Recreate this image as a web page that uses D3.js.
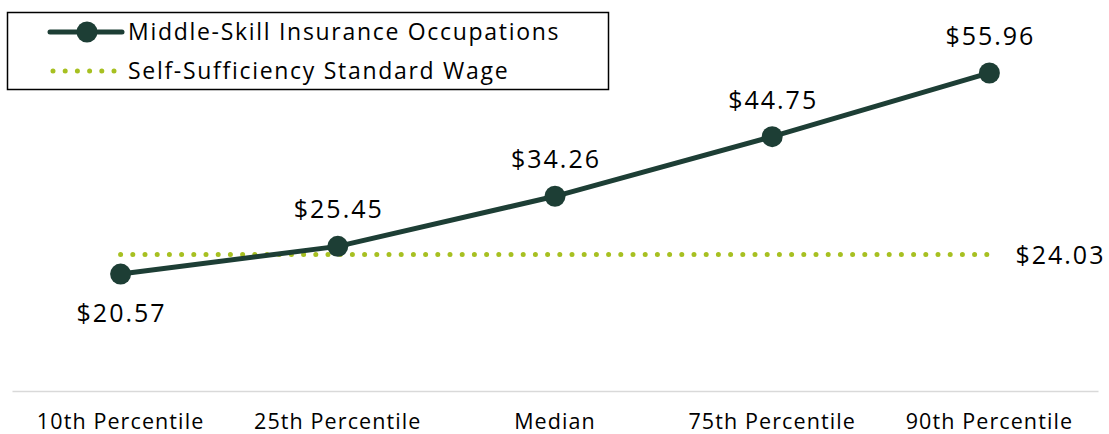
<!DOCTYPE html>
<html lang="en">
<head>
<meta charset="UTF-8">
<title>Middle-Skill Insurance Occupations</title>
<script src="https://d3js.org/d3.v7.min.js"></script>
<style>
    body { margin: 0; background: #fff; }
    text { font-family: "Open Sans", sans-serif; fill: #000; }
</style>
</head>
<body>
<div id="chart"></div>
<script>
    // data
    var categories = ["10th Percentile", "25th Percentile", "Median", "75th Percentile", "90th Percentile"];
    var wages = [20.57, 25.45, 34.26, 44.75, 55.96];
    var selfSufficiency = 24.03;
    var seriesNames = ["Middle-Skill Insurance Occupations", "Self-Sufficiency Standard Wage"];

    var w = 1109;
    var h = 434;
    var lineColor = "#1d3e35";
    var dotColor = "#a7c021";

    var svg = d3.select("#chart")
        .append("svg")
        .attr("width", w)
        .attr("height", h);

    var xScale = d3.scaleBand()
        .domain(categories)
        .range([12, 1098])
        .padding(0);

    var yScale = d3.scaleLinear()
        .domain([0, 60])
        .range([391, 50]);

    var cx = function(d, i) { return xScale(categories[i]) + xScale.bandwidth() / 2; };

    // x axis
    var xAxis = svg.append("g")
        .attr("transform", "translate(0," + yScale(0) + ")")
        .call(d3.axisBottom(xScale).tickSize(0).tickSizeOuter(0).tickPadding(23));
    xAxis.select(".domain").attr("stroke", "#d9d9d9").attr("stroke-width", 1.5);
    xAxis.selectAll("text")
        .attr("font-family", "Open Sans, sans-serif")
        .attr("font-size", "21.5px")
        .attr("letter-spacing", "1.1px")
        .attr("fill", "#000");

    // self-sufficiency dotted line
    svg.append("line")
        .attr("x1", cx(null, 0))
        .attr("x2", cx(null, categories.length - 1))
        .attr("y1", yScale(selfSufficiency))
        .attr("y2", yScale(selfSufficiency))
        .attr("stroke", dotColor)
        .attr("stroke-width", 5)
        .attr("stroke-linecap", "round")
        .attr("stroke-dasharray", "0,12.2");

    svg.append("text")
        .attr("x", cx(null, categories.length - 1) + 26)
        .attr("y", yScale(selfSufficiency) + 10)
        .attr("font-size", "25px")
        .attr("letter-spacing", "2px")
        .text("$" + selfSufficiency.toFixed(2));

    // main series
    var line = d3.line()
        .x(cx)
        .y(function(d) { return yScale(d); });

    svg.append("path")
        .datum(wages)
        .attr("d", line)
        .attr("fill", "none")
        .attr("stroke", lineColor)
        .attr("stroke-width", 5)
        .attr("stroke-linejoin", "round");

    svg.selectAll("circle.pt")
        .data(wages)
        .enter()
        .append("circle")
        .attr("class", "pt")
        .attr("cx", cx)
        .attr("cy", function(d) { return yScale(d); })
        .attr("r", 10.5)
        .attr("fill", lineColor);

    svg.selectAll("text.lbl")
        .data(wages)
        .enter()
        .append("text")
        .attr("class", "lbl")
        .attr("x", function(d, i) { return cx(d, i) + 1; })
        .attr("y", function(d, i) { return i === 0 ? yScale(d) + 48 : yScale(d) - 28; })
        .attr("text-anchor", "middle")
        .attr("font-size", "25px")
        .attr("letter-spacing", "2px")
        .text(function(d) { return "$" + d.toFixed(2); });

    // legend
    var legend = svg.append("g");
    legend.append("rect")
        .attr("x", 7.5)
        .attr("y", 12.5)
        .attr("width", 601)
        .attr("height", 77)
        .attr("fill", "#fff")
        .attr("stroke", "#000")
        .attr("stroke-width", 1.5);

    legend.append("line")
        .attr("x1", 50).attr("x2", 122)
        .attr("y1", 32).attr("y2", 32)
        .attr("stroke", lineColor)
        .attr("stroke-width", 5)
        .attr("stroke-linecap", "round");
    legend.append("circle")
        .attr("cx", 87).attr("cy", 32).attr("r", 10.5)
        .attr("fill", lineColor);
    legend.append("line")
        .attr("x1", 53).attr("x2", 115)
        .attr("y1", 71).attr("y2", 71)
        .attr("stroke", dotColor)
        .attr("stroke-width", 5)
        .attr("stroke-linecap", "round")
        .attr("stroke-dasharray", "0,12.2");

    legend.selectAll("text")
        .data(seriesNames)
        .enter()
        .append("text")
        .attr("x", 128)
        .attr("y", function(d, i) { return 40 + i * 39; })
        .attr("font-size", "23px")
        .attr("letter-spacing", "1.7px")
        .text(function(d) { return d; });
</script>
</body>
</html>
